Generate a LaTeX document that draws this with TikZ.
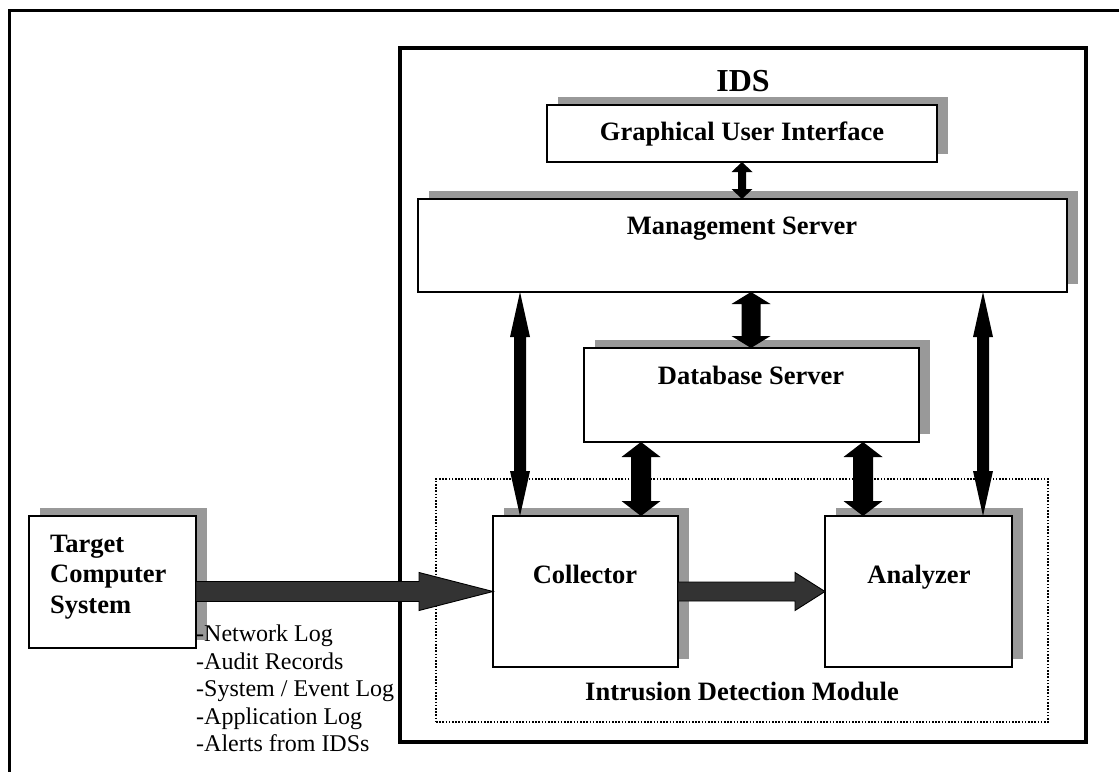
\documentclass[tikz,border=0pt]{standalone}
\usepackage{fontspec}
\setmainfont{Liberation Serif}
\usetikzlibrary{calc,shadows}
\definecolor{shadowgray}{RGB}{153,153,153}
\definecolor{arrowdark}{RGB}{51,51,51}
\tikzset{
  boxnode/.style={draw=black, line width=1.8pt, fill=white, inner sep=0pt, outer sep=0pt,
    drop shadow={shadow xshift=11pt, shadow yshift=8pt, fill=shadowgray, opacity=1}},
  lbl/.style={font=\fontsize{26.5}{31}\selectfont\bfseries, inner sep=0pt, anchor=base},
  listtext/.style={font=\fontsize{24}{27.5}\selectfont, inner sep=0pt, anchor=base west},
  vertarrow/.style={fill=black},
  fatarrow/.style={fill=arrowdark, draw=black, line width=0.9pt, line join=miter},
}
% vertical double arrow: #1 top, #2 bottom, #3 shaft half width, #4 head half width, #5 head length
\newcommand\dblarrowV[5]{%
  \path[vertarrow] (#1) -- ($(#1)+(#4,#5)$) -- ($(#1)+(#3,#5)$) -- ($(#2)+(#3,-#5)$)
    -- ($(#2)+(#4,-#5)$) -- (#2) -- ($(#2)+(-#4,-#5)$) -- ($(#2)+(-#3,-#5)$)
    -- ($(#1)+(-#3,#5)$) -- ($(#1)+(-#4,#5)$) -- cycle;}
% horizontal single arrow: #1 start, #2 tip, #3 shaft half width, #4 head half width, #5 head length
\newcommand\fatarrowH[5]{%
  \path[fatarrow] ($(#1)+(0,-#3)$) -- ($(#2)+(-#5,-#3)$) -- ($(#2)+(-#5,-#4)$) -- (#2)
    -- ($(#2)+(-#5,#4)$) -- ($(#2)+(-#5,#3)$) -- ($(#1)+(0,#3)$) -- cycle;}
\begin{document}
\begin{tikzpicture}[x=1pt,y=-1pt]
\useasboundingbox (0,0) rectangle (1119,771);
% outer frame (cut off at right and bottom)
\draw[line width=3.5pt] (9.5,790) -- (9.5,10.5) -- (1140,10.5);
% IDS frame
\node[draw=black, line width=4pt, inner sep=0pt, minimum width=686pt, minimum height=694pt] (ids) at (743,395) {};
% intrusion detection module (dotted)
\node[draw=black, line width=1.3pt, dash pattern=on 1.6pt off 1.6pt, inner sep=0pt,
      minimum width=612pt, minimum height=243pt] (idm) at (742,600.5) {};
% boxes
\node[boxnode, minimum width=167pt, minimum height=132pt] (tcs) at (112.5,582) {};
\node[boxnode, minimum width=390pt, minimum height=57pt] (gui) at (742,133.5) {};
\node[boxnode, minimum width=649pt, minimum height=93pt] (ms) at (742.5,245.5) {};
\node[boxnode, minimum width=335pt, minimum height=94pt] (db) at (751.5,395) {};
\node[boxnode, minimum width=185pt, minimum height=151pt] (col) at (585.5,591.5) {};
\node[boxnode, minimum width=187pt, minimum height=151pt] (ana) at (918.5,591.5) {};
% labels
\node[lbl, font=\fontsize{32}{36}\selectfont\bfseries] (idst) at (743,91) {IDS};
\node[lbl] (guit) at (742,140) {Graphical User Interface};
\node[lbl] (mst) at (742,234) {Management Server};
\node[lbl] (dbt) at (751,384) {Database Server};
\node[lbl] (colt) at (585,583) {Collector};
\node[lbl] (anat) at (919,583) {Analyzer};
\node[lbl] (idmt) at (742,700.5) {Intrusion Detection Module};
\node[lbl, anchor=base west] (tcs1) at (50,552) {Target};
\node[lbl, anchor=base west] (tcs2) at (50,582.5) {Computer};
\node[lbl, anchor=base west] (tcs3) at (50,613) {System};
% data sources list
\foreach \t [count=\i from 0] in {-Network Log,-Audit Records,-System / Event Log,-Application Log,-Alerts from IDSs}
  \node[listtext] (src\i) at (196,641.5+27.5*\i) {\t};
% connector anchor points
\coordinate (guiB) at ($(gui.south)$);
\coordinate (msT) at (guiB |- ms.north);
\coordinate (msB1) at ($(ms.south)+(8.5,0)$);
\coordinate (dbT) at (msB1 |- db.north);
\coordinate (msBL) at (ms.south -| 520,0);
\coordinate (colTL) at (msBL |- col.north);
\coordinate (msBR) at (ms.south -| 983,0);
\coordinate (anaTR) at (msBR |- ana.north);
\coordinate (dbBL) at (db.south -| 641,0);
\coordinate (colTM) at (dbBL |- col.north);
\coordinate (dbBR) at (db.south -| 863,0);
\coordinate (anaTM) at (dbBR |- ana.north);
\coordinate (tcsE) at (tcs.east |- col.west);
% vertical arrows
\dblarrowV{guiB}{msT}{4}{10.5}{10}
\dblarrowV{msB1}{dbT}{9.5}{19.5}{12}
\dblarrowV{msBL}{colTL}{6}{10}{45}
\dblarrowV{msBR}{anaTR}{6}{10}{45}
\dblarrowV{dbBL}{colTM}{10}{19.5}{15}
\dblarrowV{dbBR}{anaTM}{10}{19.5}{15}
% horizontal fat arrows
\fatarrowH{tcsE}{col.west}{10}{19}{74}
\fatarrowH{col.east}{ana.west}{9.5}{19}{30}
\end{tikzpicture}
\end{document}
